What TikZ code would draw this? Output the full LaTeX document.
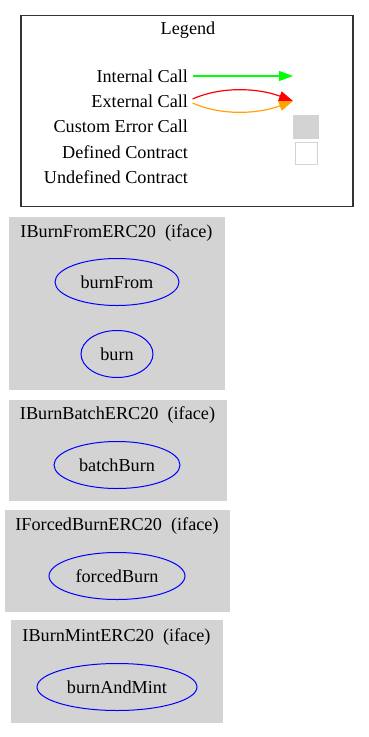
\documentclass[tikz,border=0pt]{standalone}
\usepackage{fontspec}
\setmainfont{Liberation Serif}
\usetikzlibrary{arrows.meta,shapes.geometric}
\definecolor{clusterc}{HTML}{D3D3D3}
\definecolor{greenc}{HTML}{00FF00}
\definecolor{orangec}{HTML}{FFA500}

\begin{document}
\begin{tikzpicture}[x=1pt,y=-1pt,
      every node/.style={font=\fontsize{18.2}{20}\selectfont},
      iface/.style={fill=clusterc,draw=clusterc,inner sep=0pt},
      fn/.style={draw=blue,line width=1pt,ellipse,inner sep=0pt,minimum height=47pt},
      key/.style={anchor=east,inner sep=0pt,outer sep=0pt},
      >={Triangle[length=14pt,width=10pt]}]
    \useasboundingbox (0,0) rectangle (369,737);

    % legend
    \node[draw=black!80,line width=1.2pt,minimum width=332pt,minimum height=191pt] (legend) at (187,111) {};
    \node (legendt) at (188,30) {Legend};
    \node[key] (kint) at (188,76) {Internal Call};
    \node[key] (kext) at (188,101) {External Call};
    \node[key] (kerr) at (188,126) {Custom Error Call};
    \node[key] (kdef) at (188,152) {Defined Contract};
    \node[key] (kundef) at (188,177) {Undefined Contract};
    \coordinate (kintend) at (293,76);
    \coordinate (kextend) at (293,101);
    \node[fill=clusterc,inner sep=0pt,minimum width=26pt,minimum height=24pt] (kerrbox) at (306,127) {};
    \node[draw=clusterc,line width=1pt,inner sep=0pt,minimum size=22pt] (kdefbox) at (306,153) {};
    \draw[->,greenc,line width=1.2pt,shorten <=5pt] (kint.east) -- (kintend);
    \draw[->,red,line width=1.2pt,shorten <=5pt] (kext.east) .. controls (222,86) and (258,88) .. (kextend);
    \draw[->,orangec,line width=1.2pt,shorten <=5pt] (kext.east) .. controls (222,116) and (258,114) .. (kextend);

    % interfaces
    \node[iface,minimum width=215pt,minimum height=172pt] (burnfromc) at (116.5,303) {};
    \node (burnfromt) at (116.5,233) {IBurnFromERC20\ \ (iface)};
    \node[fn,minimum width=124pt] (burnFrom) at (117,282) {burnFrom};
    \node[fn,minimum width=72pt] (burn) at (117,354) {burn};

    \node[iface,minimum width=217pt,minimum height=100pt] (batchc) at (117.5,450) {};
    \node (batcht) at (117.5,415) {IBurnBatchERC20\ \ (iface)};
    \node[fn,minimum width=126pt] (batchBurn) at (117,465) {batchBurn};

    \node[iface,minimum width=224pt,minimum height=101pt] (forcedc) at (117,560.5) {};
    \node (forcedt) at (117,526) {IForcedBurnERC20\ \ (iface)};
    \node[fn,minimum width=136pt] (forcedBurn) at (117,576) {forcedBurn};

    \node[iface,minimum width=211pt,minimum height=102pt] (mintc) at (116.5,671) {};
    \node (mintt) at (116.5,637) {IBurnMintERC20\ \ (iface)};
    \node[fn,minimum width=160pt] (burnAndMint) at (117,687) {burnAndMint};
  \end{tikzpicture}
\end{document}
